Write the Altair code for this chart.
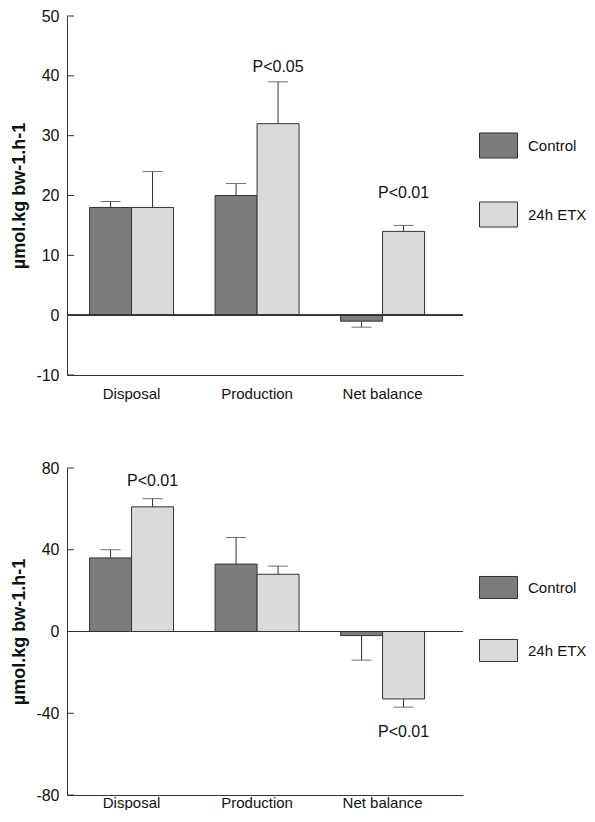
import altair as alt
import pandas as pd

measures = ["Disposal", "Production", "Net balance"]
groups = ["Control", "24h ETX"]

# Top panel
top_control = [18, 20, -1]
top_control_err = [19, 22, -2]
top_etx = [18, 32, 14]
top_etx_err = [24, 39, 15]
top_p_measure = ["Production", "Net balance"]
top_p_group = ["24h ETX", "24h ETX"]
top_p_y = [41.5, 20.5]
top_p_text = ["P<0.05", "P<0.01"]
top_ticks = [-10, 0, 10, 20, 30, 40, 50]

# Bottom panel
bot_control = [36, 33, -2]
bot_control_err = [40, 46, -14]
bot_etx = [61, 28, -33]
bot_etx_err = [65, 32, -37]
bot_p_measure = ["Disposal", "Net balance"]
bot_p_group = ["24h ETX", "24h ETX"]
bot_p_y = [73.5, -49]
bot_p_text = ["P<0.01", "P<0.01"]
bot_ticks = [-80, -40, 0, 40, 80]

y_title = "µmol.kg bw-1.h-1"
colors = ["#7c7c7c", "#dadada"]
ink = "#333333"
txtc = "#111111"
FS = 16


def build_df(ctrl, ctrl_err, etx, etx_err):
    rows = []
    for m, v, e in zip(measures, ctrl, ctrl_err):
        rows.append({"Measure": m, "Group": "Control", "value": v, "err": e})
    for m, v, e in zip(measures, etx, etx_err):
        rows.append({"Measure": m, "Group": "24h ETX", "value": v, "err": e})
    return pd.DataFrame(rows)


def panel(df, pdf, ticks, domain, height, legend_y, sym_h, row_pad, xlab_pad):
    x = alt.X("Measure:N", sort=measures, title=None,
              scale=alt.Scale(paddingInner=0.331, paddingOuter=0.243, align=0.37),
              axis=alt.Axis(labelAngle=0, ticks=False, domain=True, domainColor=ink,
                            labelFontSize=15, labelPadding=xlab_pad, labelColor=txtc))
    xo = alt.XOffset("Group:N", sort=groups, scale=alt.Scale(paddingInner=0, paddingOuter=0))
    y = alt.Y("value:Q", title=y_title,
              scale=alt.Scale(domain=domain, nice=False, zero=True),
              axis=alt.Axis(values=ticks, ticks=False, grid=False, domain=True, domainColor=ink,
                            labelExpr="datum.value",
                            labelFontSize=FS, labelPadding=8, labelColor=txtc,
                            titleFontSize=18, titleFontWeight="bold", titlePadding=7,
                            titleColor=txtc))
    path = f"M-1,-{sym_h}L1,-{sym_h}L1,{sym_h}L-1,{sym_h}Z"
    bars = alt.Chart(df).mark_bar(stroke=ink, strokeWidth=1).encode(
        x=x, xOffset=xo, y=y,
        color=alt.Color("Group:N", sort=groups,
                        scale=alt.Scale(domain=groups, range=colors),
                        legend=alt.Legend(orient="none", legendX=412, legendY=legend_y,
                                          title=None, symbolType=path, symbolSize=1444,
                                          symbolStrokeColor=ink, symbolStrokeWidth=1,
                                          labelFontSize=15, labelOffset=10,
                                          rowPadding=row_pad, padding=0, labelColor=txtc)),
    )
    zero = alt.Chart(df).mark_rule(color=ink, strokeWidth=1).encode(y=alt.datum(0))
    err = alt.Chart(df).mark_rule(color=ink, strokeWidth=1).encode(
        x=alt.X("Measure:N", sort=measures), xOffset=alt.XOffset("Group:N", sort=groups),
        y="value:Q", y2="err:Q")
    caps = alt.Chart(df).mark_tick(orient="horizontal", size=20, thickness=1, color=ink).encode(
        x=alt.X("Measure:N", sort=measures), xOffset=alt.XOffset("Group:N", sort=groups),
        y="err:Q")
    txt = alt.Chart(pdf).mark_text(fontSize=FS, baseline="middle", color=txtc).encode(
        x=alt.X("Measure:N", sort=measures), xOffset=alt.XOffset("Group:N", sort=groups),
        y="y:Q", text="label:N")
    tk = alt.Chart(pd.DataFrame({"v": ticks})).mark_rule(color=ink, strokeWidth=1).encode(
        y="v:Q", x=alt.value(0), x2=alt.value(7))
    return alt.layer(bars, zero, err, caps, txt, tk).properties(width=396, height=height)


top_df = build_df(top_control, top_control_err, top_etx, top_etx_err)
top_pdf = pd.DataFrame({"Measure": top_p_measure, "Group": top_p_group, "y": top_p_y, "label": top_p_text})
bot_df = build_df(bot_control, bot_control_err, bot_etx, bot_etx_err)
bot_pdf = pd.DataFrame({"Measure": bot_p_measure, "Group": bot_p_group, "y": bot_p_y, "label": bot_p_text})

top = panel(top_df, top_pdf, top_ticks, [-10, 50], 359, 110, 0.66, 34, 11)
bot = panel(bot_df, bot_pdf, bot_ticks, [-80, 80], 327, 100, 0.58, 30, 0)

chart = alt.vconcat(top, bot, spacing=59).resolve_scale(color="independent").resolve_legend(
    color="independent").properties(
    padding={"top": 0, "left": 2, "right": 0, "bottom": 0}
).configure(font="Liberation Sans").configure_view(stroke=None)

chart.save("out.html", embed_options={"renderer": "svg", "actions": False})
